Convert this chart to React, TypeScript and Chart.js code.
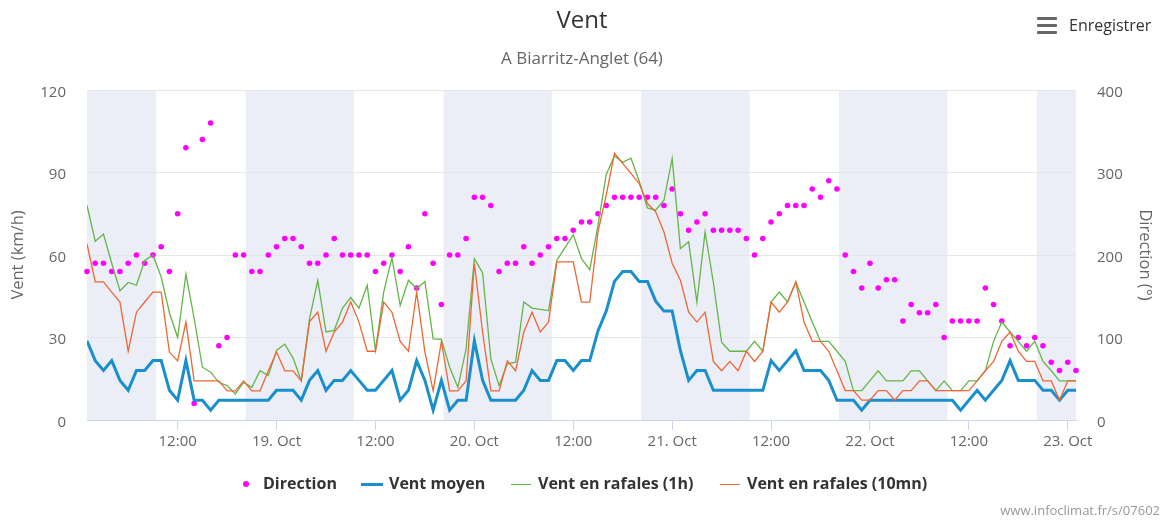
import React, { useEffect, useRef } from 'react';
import { Chart, registerables } from 'chart.js';

Chart.register(...registerables);

// Hours counted from 18 Oct 00:00 ; one reading per hour starting at 01:00
const startHour = 1;

const direction = [
  180, 190, 190, 180, 180, 190, 200, 190, 200, 210,
  180, 250, 330, 20, 340, 360, 90, 100, 200, 200,
  180, 180, 200, 210, 220, 220, 210, 190, 190, 200,
  220, 200, 200, 200, 200, 180, 190, 200, 180, 210,
  160, 250, 190, 140, 200, 200, 220, 270, 270, 260,
  180, 190, 190, 210, 190, 200, 210, 220, 220, 230,
  240, 240, 250, 260, 270, 270, 270, 270, 270, 270,
  260, 280, 250, 230, 240, 250, 230, 230, 230, 230,
  220, 200, 220, 240, 250, 260, 260, 260, 280, 270,
  290, 280, 200, 180, 160, 190, 160, 170, 170, 120,
  140, 130, 130, 140, 100, 120, 120, 120, 120, 160,
  140, 120, 90, 100, 90, 100, 90, 70, 60, 70,
  60,
];

const ventMoyen = [
  28.8, 21.6, 18, 21.6, 14.4, 10.8, 18, 18, 21.6, 21.6,
  10.8, 7.2, 21.6, 7.2, 7.2, 3.6, 7.2, 7.2, 7.2, 7.2,
  7.2, 7.2, 7.2, 10.8, 10.8, 10.8, 7.2, 14.4, 18, 10.8,
  14.4, 14.4, 18, 14.4, 10.8, 10.8, 14.4, 18, 7.2, 10.8,
  21.6, 14.4, 3.6, 14.4, 3.6, 7.2, 7.2, 28.8, 14.4, 7.2,
  7.2, 7.2, 7.2, 10.8, 18, 14.4, 14.4, 21.6, 21.6, 18,
  21.6, 21.6, 32.4, 39.6, 50.4, 54, 54, 50.4, 50.4, 43.2,
  39.6, 39.6, 25.2, 14.4, 18, 18, 10.8, 10.8, 10.8, 10.8,
  10.8, 10.8, 10.8, 21.6, 18, 21.6, 25.2, 18, 18, 18,
  14.4, 7.2, 7.2, 7.2, 3.6, 7.2, 7.2, 7.2, 7.2, 7.2,
  7.2, 7.2, 7.2, 7.2, 7.2, 7.2, 3.6, 7.2, 10.8, 7.2,
  10.8, 14.4, 21.6, 14.4, 14.4, 14.4, 10.8, 10.8, 7.2, 10.8,
  10.8,
];

const rafales1h = [
  78, 65, 67.6, 57, 47, 50, 49, 58, 60, 52,
  39, 30, 53, 37, 19.2, 17.4, 13.7, 12.5, 9.5, 13.7,
  11.9, 17.9, 16.2, 25.3, 27.6, 22.5, 14.3, 36.8, 50.8, 32,
  32.6, 40.7, 44.5, 40.7, 49, 25.3, 46.5, 59, 41.7, 50.8,
  47.8, 50.4, 29.5, 29.3, 19.2, 11.9, 25.9, 58.7, 53.5, 22.2,
  12.5, 20.4, 21, 42.9, 40.7, 40.2, 39.8, 58, 62.7, 67.4,
  58.7, 54.7, 70.8, 89.3, 96, 93.7, 95.2, 86.9, 77.1, 76.3,
  79.9, 95.1, 62.3, 64.8, 42.9, 68.4, 50, 28.3, 25, 25,
  25, 28.6, 25, 42.9, 46.5, 42.9, 50.2, 42.9, 35.6, 28.6,
  28.6, 25, 21.3, 10.7, 10.7, 14.3, 17.9, 14.2, 14.2, 14.2,
  17.9, 17.9, 14.2, 10.7, 14.2, 10.7, 10.7, 14.2, 14.2, 17.9,
  28.6, 35.6, 32, 28.6, 25, 28.6, 21.3, 17.9, 14.2, 14.2,
  14.2,
];

const rafales10mn = [
  64, 50.2, 50.2, 46.5, 42.9, 25, 39.2, 42.9, 46.5, 46.5,
  24.7, 21.5, 35.6, 14.2, 14.2, 14.2, 14.2, 10.6, 10.6, 14.2,
  10.6, 10.6, 17.9, 24.7, 17.9, 17.9, 14.2, 35.8, 39.2, 25,
  32, 35.6, 42.9, 35.6, 25, 25, 42.9, 39.2, 28.6, 25,
  46.5, 24.7, 10.6, 28.6, 10.6, 10.6, 14.2, 56.9, 32, 10.6,
  10.6, 21.5, 17.9, 32, 39.2, 32, 35.6, 57.5, 57.5, 57.5,
  42.9, 42.9, 68.4, 81.8, 97, 93.3, 89.7, 86, 78.7, 75.7,
  68.4, 57, 50.8, 39.2, 35.6, 39.2, 21.3, 17.9, 21.3, 17.9,
  25, 21.3, 25, 42.9, 39.2, 42.9, 50.2, 35.6, 28.6, 28.6,
  25, 17.9, 10.7, 10.7, 7.2, 7.2, 10.7, 10.7, 7.2, 10.7,
  10.7, 14.2, 14.2, 10.7, 10.7, 10.7, 10.7, 10.7, 14.2, 17.9,
  21.3, 28.6, 32, 25, 21.3, 21.3, 14.2, 14.2, 7.2, 14.2,
  14.2,
];

const tickHours = [12, 24, 36, 48, 60, 72, 84, 96, 108, 120];
const tickLabels = ['12:00', '19. Oct', '12:00', '20. Oct', '12:00', '21. Oct', '12:00', '22. Oct', '12:00', '23. Oct'];

// night bands (hours from 18 Oct 00:00)
const nightStart = [-3.75, 20.25, 44.25, 68.25, 92.25, 116.25];
const nightEnd = [9.4, 33.4, 57.4, 81.4, 105.4, 129.4];

const FONT = '"Open Sans", "DejaVu Sans", sans-serif';
const C_DIR = '#ff00ff';
const C_MOY = '#1a8fcd';
const C_R1H = '#64b548';
const C_R10 = '#ee6634';

const toXY = (arr: number[]) => arr.map((v, i) => ({ x: startHour + i, y: v }));

export default function App() {
  const ref = useRef<HTMLCanvasElement | null>(null);

  useEffect(() => {
    const bands = {
      id: 'nightBands',
      beforeDraw(chart: any) {
        const { ctx, chartArea, scales } = chart;
        const xs = scales.x;
        ctx.save();
        ctx.fillStyle = '#ebeef6';
        for (let k = 0; k < nightStart.length; k++) {
          const a = Math.max(xs.getPixelForValue(nightStart[k]), chartArea.left);
          const b = Math.min(xs.getPixelForValue(nightEnd[k]), chartArea.right);
          if (b > a) ctx.fillRect(a, chartArea.top, b - a, chartArea.bottom - chartArea.top);
        }
        ctx.restore();
      },
    };

    const tickFont = { family: FONT, size: 15 };
    const chart = new Chart(ref.current as HTMLCanvasElement, {
      type: 'line',
      data: {
        datasets: [
          {
            label: 'Vent en rafales (10mn)',
            data: toXY(rafales10mn),
            borderColor: C_R10,
            backgroundColor: C_R10,
            borderWidth: 1.3,
            pointRadius: 0,
            yAxisID: 'y',
            order: 0,
          },
          {
            label: 'Vent en rafales (1h)',
            data: toXY(rafales1h),
            borderColor: C_R1H,
            backgroundColor: C_R1H,
            borderWidth: 1.3,
            pointRadius: 0,
            yAxisID: 'y',
            order: 1,
          },
          {
            label: 'Vent moyen',
            data: toXY(ventMoyen),
            borderColor: C_MOY,
            backgroundColor: C_MOY,
            borderWidth: 3,
            pointRadius: 0,
            yAxisID: 'y',
            order: 2,
          },
          {
            label: 'Direction',
            data: toXY(direction),
            showLine: false,
            borderColor: C_DIR,
            backgroundColor: C_DIR,
            pointBackgroundColor: C_DIR,
            pointBorderWidth: 0,
            pointRadius: 2.8,
            yAxisID: 'y2',
            clip: false as any,
            order: 3,
          },
        ],
      },
      options: {
        animation: false,
        responsive: false,
        devicePixelRatio: 1,
        events: [],
        layout: { padding: { top: 90, left: 0, right: 0, bottom: 0 } },
        elements: { line: { tension: 0 } },
        plugins: {
          legend: { display: false },
          title: { display: false },
          tooltip: { enabled: false },
        },
        scales: {
          x: {
            type: 'linear',
            min: 1,
            max: 121,
            afterBuildTicks: (s: any) => {
              s.ticks = tickHours.map((v) => ({ value: v }));
            },
            afterFit: (s: any) => {
              s.height = 103;
            },
            grid: { drawOnChartArea: false, drawTicks: true, tickLength: 10, color: '#ccd6eb', lineWidth: 1 },
            border: { display: true, color: '#ccd6eb', width: 1 },
            ticks: {
              autoSkip: false,
              maxRotation: 0,
              padding: 3,
              color: '#666666',
              font: tickFont,
              callback: (v: any) => {
                const k = tickHours.indexOf(Number(v));
                return k >= 0 ? tickLabels[k] : '';
              },
            },
          },
          y: {
            position: 'left',
            min: 0,
            max: 120,
            afterFit: (s: any) => {
              s.width = 87;
            },
            ticks: { stepSize: 30, padding: 21, labelOffset: 2.5, color: '#666666', font: tickFont },
            grid: { color: '#e6e6e6', drawTicks: false, lineWidth: 1 },
            border: { display: false },
            title: {
              display: true,
              text: 'Vent (km/h)',
              color: '#666666',
              font: { family: FONT, size: 16.5 },
              padding: { top: 8.5, bottom: 0 },
            },
          },
          y2: {
            position: 'right',
            min: 0,
            max: 400,
            afterFit: (s: any) => {
              s.width = 88;
            },
            ticks: { stepSize: 100, padding: 21, labelOffset: 2.5, color: '#666666', font: tickFont },
            grid: { drawOnChartArea: false, drawTicks: false },
            border: { display: false },
            title: {
              display: true,
              text: 'Direction (°)',
              color: '#666666',
              font: { family: FONT, size: 16.5 },
              padding: { top: 9, bottom: 0 },
            },
          },
        },
      } as any,
      plugins: [bands],
    });
    return () => chart.destroy();
  }, []);

  const abs = (s: React.CSSProperties): React.CSSProperties => ({ position: 'absolute', whiteSpace: 'nowrap', ...s });
  const legendText: React.CSSProperties = { top: 475, fontSize: 16, lineHeight: '16px', fontWeight: 700, color: '#333333' };

  return (
    <div style={{ position: 'fixed', left: 0, top: 0, width: 1164, height: 523, background: '#ffffff', fontFamily: FONT, overflow: 'hidden' }}>
      <canvas ref={ref} width={1164} height={523} style={{ position: 'absolute', left: 0, top: 0 }} />
      <div style={abs({ left: 0, width: 1164, top: 7, textAlign: 'center', fontSize: 24, lineHeight: '24px', color: '#333333' })}>Vent</div>
      <div style={abs({ left: 0, width: 1164, top: 49, textAlign: 'center', fontSize: 17, lineHeight: '17px', color: '#666666' })}>A Biarritz-Anglet (64)</div>
      <div style={abs({ left: 1037, top: 17, width: 20, height: 3, background: '#666666', borderRadius: 1 })} />
      <div style={abs({ left: 1037, top: 24, width: 20, height: 3, background: '#666666', borderRadius: 1 })} />
      <div style={abs({ left: 1037, top: 31, width: 20, height: 3, background: '#666666', borderRadius: 1 })} />
      <div style={abs({ left: 1069, top: 17, fontSize: 16, lineHeight: '16px', color: '#333333' })}>Enregistrer</div>

      <div style={abs({ left: 243, top: 481, width: 6, height: 6, borderRadius: 3, background: C_DIR })} />
      <div style={abs({ left: 263, ...legendText })}>Direction</div>
      <div style={abs({ left: 361, top: 483, width: 22, height: 3, background: C_MOY })} />
      <div style={abs({ left: 389, ...legendText })}>Vent moyen</div>
      <div style={abs({ left: 511, top: 484, width: 20, height: 1, background: C_R1H })} />
      <div style={abs({ left: 538, ...legendText })}>Vent en rafales (1h)</div>
      <div style={abs({ left: 720, top: 484, width: 20, height: 1, background: C_R10 })} />
      <div style={abs({ left: 747, ...legendText })}>Vent en rafales (10mn)</div>

      <div style={abs({ right: 4, top: 504, fontSize: 13, lineHeight: '13px', color: '#999999' })}>www.infoclimat.fr/s/07602</div>
    </div>
  );
}
